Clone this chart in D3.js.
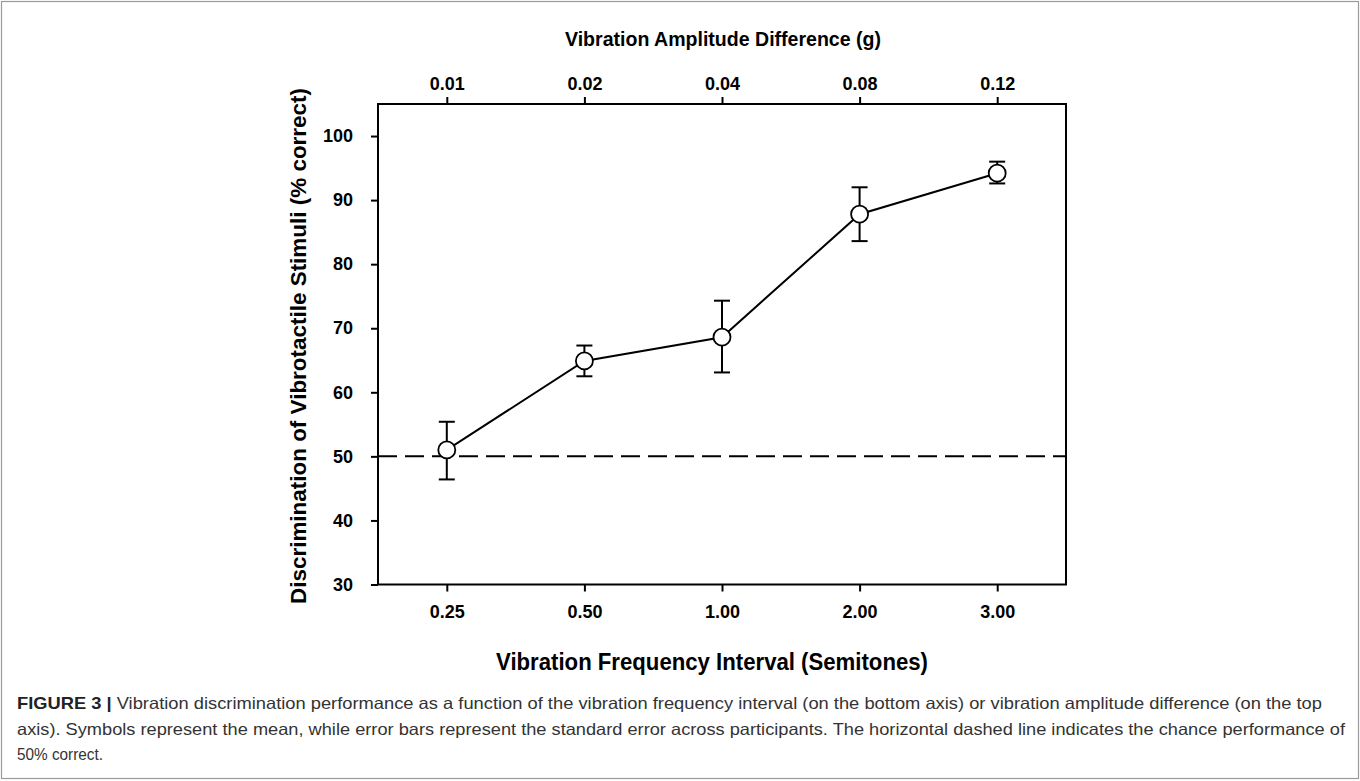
<!DOCTYPE html>
<meta charset="utf-8">
<head>
  <script src="https://d3js.org/d3.v7.min.js"></script>
</head>
<style>
  body { margin: 0; background: #fff; }
  svg { display: block; font-family: "Liberation Sans", Arial, sans-serif; }
  .frame { fill: none; stroke: #9a9a9a; stroke-width: 1.2; }
  .axis path, .axis line { stroke: #000; stroke-width: 2; }
  .axis text { font-size: 18px; font-weight: bold; fill: #000; }
  .title { font-weight: bold; fill: #000; }
  .caption { font-size: 16.5px; fill: #333; }
</style>
<body>
<script>
  // data
  var semitones = ["0.25", "0.50", "1.00", "2.00", "3.00"];
  var amplitudes = ["0.01", "0.02", "0.04", "0.08", "0.12"];
  var meanCorrect = [51.0, 64.9, 68.6, 87.8, 94.2];
  var errLow = [46.4, 62.5, 63.1, 83.6, 92.6];
  var errHigh = [55.4, 67.3, 74.3, 92.0, 96.0];
  var yTicks = [30, 40, 50, 60, 70, 80, 90, 100];
  var chanceLevel = 50;

  var captionLines = [
    "Vibration discrimination performance as a function of the vibration frequency interval (on the bottom axis) or vibration amplitude difference (on the top",
    "axis). Symbols represent the mean, while error bars represent the standard error across participants. The horizontal dashed line indicates the chance performance of",
    "50% correct."
  ];

  var W = 1360, H = 781;
  var svg = d3.select("body").append("svg")
    .attr("width", W)
    .attr("height", H);

  // outer figure box
  svg.append("rect").attr("class", "frame")
    .attr("x", 1.5).attr("y", 1.5).attr("width", W - 3).attr("height", H - 4);

  var pLeft = 378, pRight = 1066, pTop = 104, pBottom = 584.5;

  var x = d3.scaleLinear().domain([-0.5, 4.5]).range([pLeft, pRight]);
  var y = d3.scaleLinear().domain([30, 105]).range([pBottom, pTop]);
  var idx = d3.range(semitones.length);

  // frame of the plot
  svg.append("rect")
    .attr("x", pLeft).attr("y", pTop)
    .attr("width", pRight - pLeft).attr("height", pBottom - pTop)
    .attr("fill", "none").attr("stroke", "#000").attr("stroke-width", 2);

  // axes
  var xBottom = d3.axisBottom(x).tickValues(idx).tickFormat(function (i) { return semitones[i]; })
    .tickSizeInner(7).tickSizeOuter(0).tickPadding(14);
  var xTop = d3.axisTop(x).tickValues(idx).tickFormat(function (i) { return amplitudes[i]; })
    .tickSizeInner(7).tickSizeOuter(0).tickPadding(7);
  var yLeft = d3.axisLeft(y).tickValues(yTicks)
    .tickSizeInner(7).tickSizeOuter(0).tickPadding(18);

  svg.append("g").attr("class", "axis").attr("transform", "translate(0," + pBottom + ")").call(xBottom);
  svg.append("g").attr("class", "axis").attr("transform", "translate(0," + pTop + ")").call(xTop);
  svg.append("g").attr("class", "axis").attr("transform", "translate(" + pLeft + ",0)").call(yLeft);
  svg.selectAll(".axis .domain").remove();

  // chance line
  svg.append("line")
    .attr("x1", pLeft).attr("x2", pRight)
    .attr("y1", y(chanceLevel)).attr("y2", y(chanceLevel))
    .attr("stroke", "#000").attr("stroke-width", 2)
    .attr("stroke-dasharray", "19,8");

  // connecting line
  var line = d3.line().x(function (i) { return x(i); }).y(function (i) { return y(meanCorrect[i]); });
  svg.append("path").datum(idx)
    .attr("d", line).attr("fill", "none").attr("stroke", "#000").attr("stroke-width", 2);

  // error bars
  var eb = svg.append("g").attr("stroke", "#000").attr("stroke-width", 2);
  idx.forEach(function (i) {
    eb.append("line").attr("x1", x(i)).attr("x2", x(i)).attr("y1", y(errLow[i])).attr("y2", y(errHigh[i]));
    eb.append("line").attr("x1", x(i) - 8).attr("x2", x(i) + 8).attr("y1", y(errLow[i])).attr("y2", y(errLow[i]));
    eb.append("line").attr("x1", x(i) - 8).attr("x2", x(i) + 8).attr("y1", y(errHigh[i])).attr("y2", y(errHigh[i]));
  });

  // symbols
  svg.selectAll("circle.pt").data(idx).enter().append("circle")
    .attr("class", "pt")
    .attr("cx", function (i) { return x(i); })
    .attr("cy", function (i) { return y(meanCorrect[i]); })
    .attr("r", 8.5)
    .attr("fill", "#fff").attr("stroke", "#000").attr("stroke-width", 1.8);

  // axis titles
  svg.append("text").attr("class", "title")
    .attr("x", 723).attr("y", 46).attr("text-anchor", "middle")
    .style("font-size", "21px")
    .attr("textLength", 316).attr("lengthAdjust", "spacingAndGlyphs")
    .text("Vibration Amplitude Difference (g)");

  svg.append("text").attr("class", "title")
    .attr("x", 712).attr("y", 670).attr("text-anchor", "middle")
    .style("font-size", "23px")
    .attr("textLength", 432).attr("lengthAdjust", "spacingAndGlyphs")
    .text("Vibration Frequency Interval (Semitones)");

  svg.append("text").attr("class", "title")
    .attr("transform", "translate(306,346) rotate(-90)")
    .attr("text-anchor", "middle")
    .style("font-size", "22px")
    .attr("textLength", 516).attr("lengthAdjust", "spacingAndGlyphs")
    .text("Discrimination of Vibrotactile Stimuli (% correct)");

  // caption
  var cap = svg.append("g").attr("class", "caption");
  var capWidths = [1305, 1328, 86];
  captionLines.forEach(function (t, k) {
    var tx = cap.append("text").attr("x", 17).attr("y", 709 + k * 25.5);
    if (k === 0) {
      tx.append("tspan").style("font-weight", "bold").style("fill", "#222").text("FIGURE 3 | ");
    }
    tx.append("tspan").text(t);
    tx.attr("textLength", capWidths[k]).attr("lengthAdjust", "spacingAndGlyphs");
  });
</script>
</body>
